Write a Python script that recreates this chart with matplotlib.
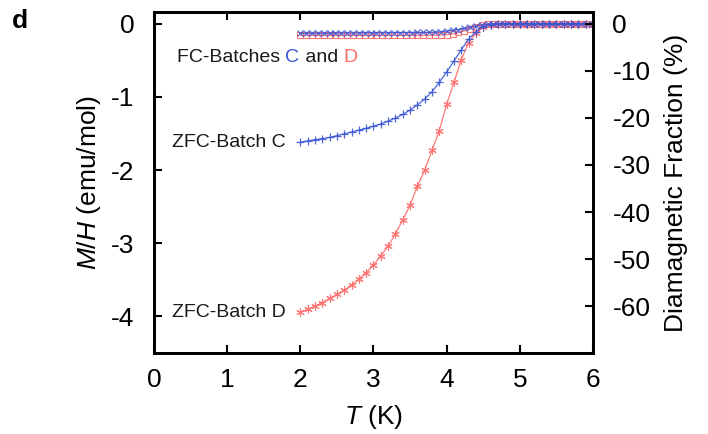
import matplotlib
matplotlib.use("Agg")
import matplotlib.pyplot as plt
from matplotlib.ticker import FixedLocator

plt.rcParams['font.family'] = ['Liberation Sans', 'DejaVu Sans']
plt.rcParams['mathtext.fontset'] = 'custom'
plt.rcParams['mathtext.it'] = 'Liberation Sans:italic'
plt.rcParams['mathtext.rm'] = 'Liberation Sans'

# ---------------- data ----------------
T_zfc = [2.0, 2.1, 2.2, 2.3, 2.4, 2.5, 2.6, 2.7, 2.8, 2.9, 3.0, 3.1, 3.2, 3.3, 3.4,
         3.5, 3.6, 3.7, 3.8, 3.9, 4.0, 4.1, 4.2, 4.3, 4.4, 4.5, 4.6, 4.7, 4.8, 4.9,
         5.0, 5.1, 5.2, 5.3, 5.4, 5.5, 5.6, 5.7, 5.8, 5.9, 6.0]
zfc_C = [-1.62, -1.60, -1.585, -1.57, -1.555, -1.53, -1.505, -1.48, -1.455, -1.43,
         -1.40, -1.37, -1.33, -1.29, -1.24, -1.18, -1.11, -1.03, -0.93, -0.80,
         -0.66, -0.51, -0.355, -0.21, -0.11, -0.04, -0.015, -0.006, -0.003, -0.002,
         -0.001, 0.0, 0.0, 0.0, 0.0, 0.0, 0.0, 0.0, 0.0, 0.0, 0.0]
zfc_D = [-3.94, -3.905, -3.86, -3.81, -3.755, -3.70, -3.64, -3.57, -3.49, -3.40,
         -3.30, -3.17, -3.04, -2.87, -2.68, -2.48, -2.22, -2.00, -1.73, -1.46,
         -1.10, -0.80, -0.49, -0.26, -0.13, -0.04, -0.012, -0.005, -0.003, -0.002,
         -0.001, 0.0, 0.0, 0.0, 0.0, 0.0, 0.0, 0.0, 0.0, 0.0, 0.0]

T_fc = [2.00, 2.08, 2.16, 2.24, 2.32, 2.40, 2.48, 2.56, 2.64, 2.72, 2.80, 2.88, 2.96,
        3.04, 3.12, 3.20, 3.28, 3.36, 3.44, 3.52, 3.60, 3.68, 3.76, 3.84, 3.92, 4.00,
        4.08, 4.16, 4.24, 4.32, 4.40, 4.48, 4.56, 4.64, 4.72, 4.80, 4.88, 4.96, 5.04,
        5.12, 5.20, 5.28, 5.36, 5.44, 5.52, 5.60, 5.68, 5.76, 5.84, 5.92, 6.00]
fc_C = [-0.13, -0.13, -0.13, -0.13, -0.13, -0.13, -0.128, -0.128, -0.127, -0.127,
        -0.126, -0.126, -0.125, -0.125, -0.124, -0.124, -0.123, -0.122, -0.122,
        -0.121, -0.12, -0.12, -0.118, -0.115, -0.11, -0.10, -0.09, -0.08, -0.065,
        -0.05, -0.03, -0.015, -0.006, -0.002, 0.0, 0.0, 0.0, 0.0, 0.0, 0.0, 0.0,
        0.0, 0.0, 0.0, 0.0, 0.0, 0.0, 0.0, 0.0, 0.0, 0.0]
fc_D = [-0.16, -0.16, -0.16, -0.16, -0.16, -0.16, -0.16, -0.16, -0.16, -0.16,
        -0.16, -0.16, -0.16, -0.16, -0.16, -0.16, -0.16, -0.16, -0.16, -0.16,
        -0.16, -0.16, -0.158, -0.156, -0.153, -0.15, -0.14, -0.12, -0.10, -0.07,
        -0.04, -0.02, -0.008, -0.003, -0.001, 0.0, 0.0, 0.0, 0.0, 0.0, 0.0, 0.0,
        0.0, 0.0, 0.0, 0.0, 0.0, 0.0, 0.0, 0.0, 0.0]

x_ticks = [0, 1, 2, 3, 4, 5, 6]
y_ticks = [0, -1, -2, -3, -4]
frac_ticks = [0, -10, -20, -30, -40, -50, -60]
frac_per_unit = 15.54   # % per emu/mol

blue = '#3a55d4'
red = '#ff6b6b'

# ---------------- figure ----------------
fig = plt.figure(figsize=(7.08, 4.34), dpi=100)
ax = fig.add_axes([154/708, 81/434, (593-154)/708, (353-12)/434])

ax.plot(T_fc, fc_D, color=red, lw=0.9, marker='s', ms=4.5, mfc='none', mec=red, mew=0.8,
        alpha=0.9, zorder=3)
ax.plot(T_fc, fc_C, color=blue, lw=0.9, marker='x', ms=4.5, mec=blue, mew=0.8,
        alpha=0.9, zorder=4)
ax.plot(T_zfc, zfc_D, color=red, lw=0.9, marker=(6, 2, 0), ms=6, mec=red, mew=0.8,
        alpha=0.9, zorder=3)
ax.plot(T_zfc, zfc_C, color=blue, lw=0.9, marker='+', ms=6, mec=blue, mew=0.9,
        alpha=0.9, zorder=4)

ax.set_xlim(0, 6)
ax.set_ylim(-4.5, 0.16)
ax.xaxis.set_major_locator(FixedLocator(x_ticks))
ax.yaxis.set_major_locator(FixedLocator(y_ticks))
ax.set_xticklabels([str(v) for v in x_ticks])
ax.set_yticklabels([str(v) for v in y_ticks])

fs = 19
ax.tick_params(axis='both', direction='in', length=6, width=1.5, labelsize=fs, pad=11)
ax.tick_params(axis='x', top=True, labeltop=False, pad=11)
ax.tick_params(axis='y', left=True, right=False, pad=14)
for s in ax.spines.values():
    s.set_linewidth(2)

ax.set_xlabel(r'$\it{T}$ (K)', fontsize=fs, labelpad=8)
ax.set_ylabel(r'$\it{M}$/$\it{H}$ (emu/mol)', fontsize=fs, labelpad=6)

ax2 = ax.twinx()
ax2.set_ylim(-4.5 * frac_per_unit, 0.16 * frac_per_unit)
ax2.yaxis.set_major_locator(FixedLocator(frac_ticks))
ax2.set_yticklabels([str(v) for v in frac_ticks])
ax2.tick_params(axis='y', direction='in', length=6, width=1.5, labelsize=fs, pad=14)
for s in ax2.spines.values():
    s.set_linewidth(2)
ax2.set_ylabel('Diamagnetic Fraction (%)', fontsize=fs, labelpad=10)

# annotations
tfs = 14
ax.text(0.25, -1.63, 'ZFC-Batch C', fontsize=tfs, ha='left', va='center', color='#1a1a1a')
ax.text(0.25, -3.95, 'ZFC-Batch D', fontsize=tfs, ha='left', va='center', color='#1a1a1a')

fig.canvas.draw()
renderer = fig.canvas.get_renderer()
pieces = [('FC-Batches ', '#1a1a1a'), ('C', blue), (' and ', '#1a1a1a'), ('D', red)]
x0 = 177
ypix = 434 - 57
for txt, col in pieces:
    t = fig.text(x0/708, ypix/434, txt, fontsize=tfs, color=col, ha='left', va='center')
    bb = t.get_window_extent(renderer)
    x0 += bb.width

fig.text(12/708, 1 - 21/434, 'd', fontsize=fs, fontweight='bold', ha='left', va='center')

fig.savefig('out.png', dpi=100)
